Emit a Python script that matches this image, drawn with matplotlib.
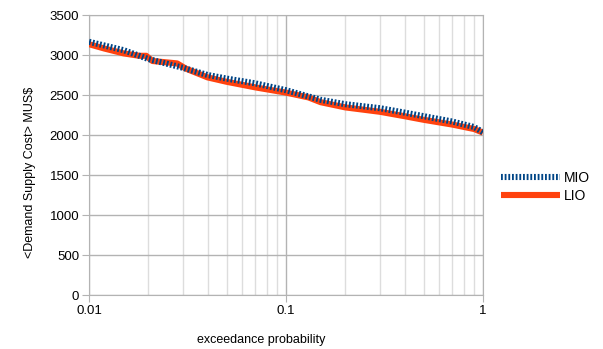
import matplotlib
matplotlib.use("Agg")
import matplotlib.pyplot as plt
from matplotlib.ticker import FixedLocator, NullFormatter

plt.rcParams['font.family'] = ['Liberation Sans', 'DejaVu Sans']

# exceedance probability vs expected cost
p_lio = [0.01, 0.012, 0.015, 0.018, 0.0195, 0.021, 0.028, 0.031, 0.04, 0.05,
         0.07, 0.1, 0.13, 0.15, 0.2, 0.3, 0.4, 0.5, 0.7, 0.9, 1.0]
cost_lio = [3135, 3080, 3020, 2990, 2990, 2925, 2895, 2830, 2720, 2665,
            2595, 2530, 2470, 2410, 2345, 2290, 2235, 2190, 2130, 2075, 2030]

p_mio = [0.01, 0.015, 0.02, 0.03, 0.04, 0.05, 0.07, 0.1, 0.15, 0.2,
         0.3, 0.4, 0.5, 0.7, 0.9, 1.0]
cost_mio = [3165, 3060, 2950, 2840, 2750, 2705, 2645, 2560, 2440, 2385,
            2335, 2280, 2235, 2168, 2100, 2035]

fig = plt.figure(figsize=(6.03, 3.49), dpi=100)
ax = fig.add_axes([89 / 603, 1 - 295 / 349, 394 / 603, 280 / 349])

l_lio, = ax.plot(p_lio, cost_lio, color='#ff420e', lw=4.4, solid_capstyle='butt',
                 label='LIO', zorder=3)
l_mio, = ax.plot(p_mio, cost_mio, color='#004586', lw=4.4, dashes=(0.3, 0.3),
                 dash_capstyle='butt', label='MIO', zorder=4)

ax.set_xscale('log')
ax.set_xlim(0.01, 1)
ax.set_ylim(0, 3500)
ax.set_yticks(range(0, 3501, 500))
ax.set_xticks([0.01, 0.1, 1])
ax.set_xticklabels(['0.01', '0.1', '1'])
minors = [k * 0.01 for k in range(2, 10)] + [k * 0.1 for k in range(2, 10)]
ax.xaxis.set_minor_locator(FixedLocator(minors))
ax.xaxis.set_minor_formatter(NullFormatter())

ax.grid(True, which='major', color='#b3b3b3', lw=1)
ax.grid(True, which='minor', axis='x', color='#dddddd', lw=1)
ax.set_axisbelow(True)
for s in ax.spines.values():
    s.set_color('#b3b3b3')
ax.tick_params(which='major', length=5, color='#b3b3b3', labelsize=9.5, pad=2)
ax.tick_params(which='minor', length=0)

fig.text(30 / 603, 1 - 172 / 349, '<Demand Supply Cost> MUS$', rotation=90,
         ha='center', va='center', fontsize=9)
fig.text(261 / 603, 1 - 340 / 349, 'exceedance probability',
         ha='center', va='center', fontsize=9)

ax.legend([l_mio, l_lio], ['MIO', 'LIO'], loc='center left',
          bbox_to_anchor=(1.015, 0.385), frameon=False, fontsize=10,
          handlelength=4.2, handletextpad=0.3, labelspacing=0.3)

fig.savefig('out.png', dpi=100)
